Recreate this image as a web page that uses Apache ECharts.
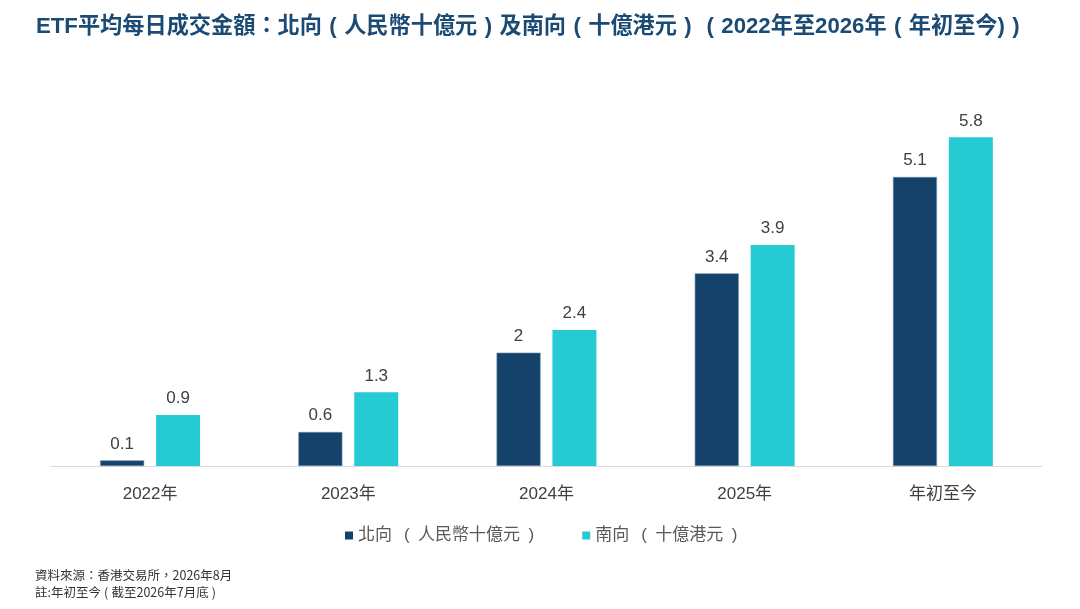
<!DOCTYPE html>
<html>
<head>
<meta charset="utf-8">
<script src="https://cdn.jsdelivr.net/npm/echarts@6/dist/echarts.min.js"></script>
<style>
  html, body { margin: 0; padding: 0; background: #fff; }
  #chart { width: 1080px; height: 609px; }
</style>
</head>
<body>
<div id="chart"></div>
<script>
var categories = ['2022年', '2023年', '2024年', '2025年', '年初至今'];
var northbound = [0.1, 0.6, 2, 3.4, 5.1];
var southbound = [0.9, 1.3, 2.4, 3.9, 5.8];

// full-width brackets drawn as spaced ASCII parens, like the original slide font
var L = '\u2004(\u2004', R = '\u2004)\u2004';
var LL = '\u2002\u2009(\u2002', RR = '\u2002)';
var seriesNames = ['北向' + LL + '人民幣十億元' + RR, '南向' + LL + '十億港元' + RR];
var titleText = 'ETF平均每日成交金額：北向' + L + '人民幣十億元' + R + '及南向' + L + '十億港元' + R +
    L + '2022年至2026年' + L + '年初至今)' + R;
var noteText = '資料來源：香港交易所，2026年8月\n註:年初至今\u2005(\u2005截至2026年7月底\u2005)';

var font = 'Liberation Sans, Arial, Noto Sans CJK TC, sans-serif';
var chart = echarts.init(document.getElementById('chart'));

chart.setOption({
    backgroundColor: '#ffffff',
    title: [{
        text: titleText,
        left: 36,
        top: 16,
        padding: 0,
        textStyle: {
            fontFamily: font,
            fontSize: 22.2,
            fontWeight: 'bold',
            color: '#1B4B74'
        }
    }, {
        text: noteText,
        left: 35,
        top: 567,
        padding: 0,
        textStyle: {
            fontFamily: 'Liberation Sans Narrow, Noto Sans CJK TC, sans-serif',
            fontSize: 12.5,
            fontWeight: 'normal',
            color: '#333333',
            lineHeight: 17
        }
    }],
    legend: {
        data: seriesNames,
        left: 345,
        top: 527,
        padding: 0,
        itemWidth: 8,
        itemHeight: 8,
        itemGap: 48,
        icon: 'rect',
        itemStyle: { borderWidth: 0 },
        textStyle: {
            fontFamily: font,
            fontSize: 17,
            color: '#595959'
        }
    },
    grid: {
        left: 51,
        right: 38,
        top: 126,
        bottom: 143,
        containLabel: false
    },
    xAxis: {
        type: 'category',
        data: categories,
        axisLine: { lineStyle: { color: '#d9d9d9', width: 1 } },
        axisTick: { show: false },
        axisLabel: {
            margin: 20,
            fontFamily: font,
            fontSize: 17,
            color: '#404040'
        }
    },
    yAxis: {
        type: 'value',
        min: 0,
        max: 6,
        show: false,
        splitLine: { show: false }
    },
    series: [{
        name: seriesNames[0],
        type: 'bar',
        data: northbound,
        barWidth: 44,
        barGap: '27%',
        itemStyle: {
            color: '#14426B',
            borderColor: '#6A8CAB',
            borderWidth: 0.6
        },
        label: {
            show: true,
            position: 'top',
            distance: 8,
            fontFamily: font,
            fontSize: 17,
            color: '#404040'
        }
    }, {
        name: seriesNames[1],
        type: 'bar',
        data: southbound,
        barWidth: 44,
        itemStyle: {
            color: '#26CAD3'
        },
        label: {
            show: true,
            position: 'top',
            distance: 8,
            fontFamily: font,
            fontSize: 17,
            color: '#404040'
        }
    }]
});
</script>
</body>
</html>
